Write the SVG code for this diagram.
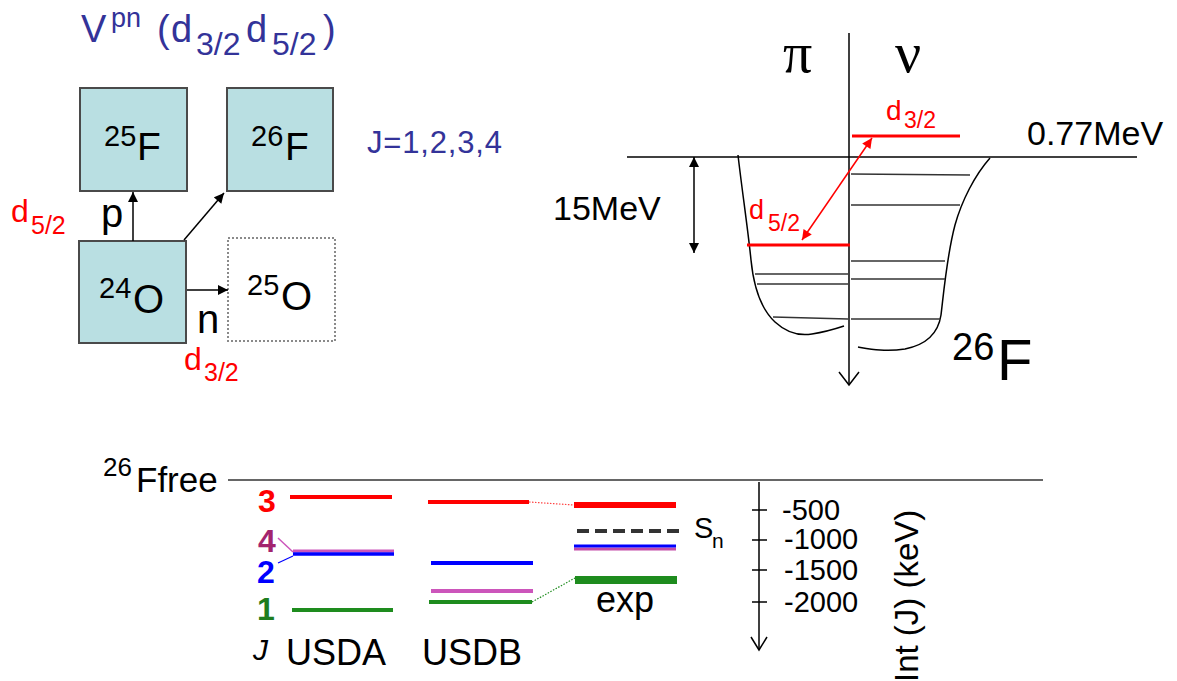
<svg xmlns="http://www.w3.org/2000/svg" width="1177" height="681" viewBox="0 0 1177 681">
<style>
text{font-family:"Liberation Sans",Arial,sans-serif;}
.red{fill:#ff0000;}
.blu{fill:#333399;}
.box{fill:#b9dfe2;stroke:#4a4a4a;stroke-width:2;}
.dbox{fill:#fff;stroke:#8a8a8a;stroke-width:2;stroke-dasharray:2 2;}
.ln{stroke:#000;stroke-width:1.5;fill:none;}
.lv{stroke:#333;stroke-width:1.6;fill:none;}
.rl{stroke:#ff0000;stroke-width:3;fill:none;}
.serif{font-family:"Liberation Serif","Times New Roman",serif;}
.b{font-weight:bold;}
</style>
<defs>
<marker id="ah" viewBox="0 0 10 10" refX="10" refY="5" markerWidth="12" markerHeight="10" markerUnits="userSpaceOnUse" orient="auto-start-reverse"><path d="M0,0 L10,5 L0,10 z" fill="#000"/></marker>
<marker id="ahr" viewBox="0 0 10 10" refX="10" refY="5" markerWidth="12" markerHeight="10" markerUnits="userSpaceOnUse" orient="auto-start-reverse"><path d="M0,0 L10,5 L0,10 z" fill="#ff0000"/></marker>
</defs>

<!-- Title -->
<g id="title">
<text x="81" y="42" font-size="38" class="blu">V</text>
<text x="111" y="27" font-size="27" class="blu">pn</text>
<text x="157" y="42" font-size="38" class="blu">(</text>
<text x="171" y="42" font-size="38" class="blu">d</text>
<text x="196" y="55" font-size="32" class="blu">3/2</text>
<text x="246" y="42" font-size="38" class="blu">d</text>
<text x="272" y="55" font-size="32" class="blu">5/2</text>
<text x="323" y="42" font-size="38" class="blu">)</text>
</g>
<text x="367" y="153" font-size="31" class="blu" textLength="135" lengthAdjust="spacing">J=1,2,3,4</text>

<!-- Nuclide boxes -->
<g id="n25F">
<rect x="80" y="88" width="107" height="103" class="box"/>
<text x="104" y="146" font-size="29">25</text>
<text x="137" y="160" font-size="39">F</text>
</g>
<g id="n26F">
<rect x="227" y="88" width="106" height="103" class="box"/>
<text x="251" y="146" font-size="29">26</text>
<text x="285" y="160" font-size="39">F</text>
</g>
<g id="n24O">
<rect x="79" y="241" width="107" height="102" class="box"/>
<text x="99" y="298" font-size="29">24</text>
<text x="133" y="313" font-size="40">O</text>
</g>
<g id="n25O">
<rect x="228" y="238" width="107" height="103" class="dbox"/>
<text x="247" y="295" font-size="29">25</text>
<text x="281" y="310" font-size="40">O</text>
</g>

<g id="connectors-left">
<line x1="133" y1="241" x2="133" y2="192" class="ln" marker-end="url(#ah)"/>
<line x1="184" y1="240" x2="224" y2="193" class="ln" marker-end="url(#ah)"/>
<line x1="187" y1="290" x2="228" y2="290" class="ln" marker-end="url(#ah)"/>
</g>
<text x="101" y="227" font-size="40">p</text>
<text x="197" y="333" font-size="40">n</text>
<g id="orbit-labels">
<text x="11" y="222" font-size="32" class="red">d</text>
<text x="31" y="234" font-size="25" class="red">5/2</text>
<text x="184" y="370" font-size="32" class="red">d</text>
<text x="204" y="381" font-size="25" class="red">3/2</text>
</g>

<!-- Potential well diagram -->
<g id="well">
<line x1="627" y1="157" x2="1137" y2="157" class="ln"/>
<path d="M849,33 L849,384" class="ln"/>
<path d="M839,372 L849,385 L859,372" class="ln"/>
<path d="M738,155 C742,190 748,230 751,260 C754,290 762,310 775,322 C788,334 800,336 812,334 C825,332 835,329 844,326" class="ln"/>
<path d="M990,158 C975,175 962,200 955,225 C947,255 944,290 941,315 C938,335 925,345 905,349 C885,352 870,349 858,347" class="ln"/>
<line x1="851" y1="174" x2="970" y2="175" class="lv"/>
<line x1="851" y1="205" x2="960" y2="205" class="lv"/>
<line x1="851" y1="261" x2="945" y2="261" class="lv"/>
<line x1="851" y1="279" x2="945" y2="279" class="lv"/>
<line x1="851" y1="319" x2="940" y2="319" class="lv"/>
<line x1="755" y1="274" x2="848" y2="274" class="lv"/>
<line x1="757" y1="284" x2="848" y2="284" class="lv"/>
<line x1="773" y1="317" x2="848" y2="319" class="lv"/>
<line x1="852" y1="136" x2="960" y2="136" class="rl"/>
<line x1="747" y1="245" x2="850" y2="245" class="rl"/>
<line x1="802" y1="240" x2="872" y2="138" stroke="#ff0000" stroke-width="1.5" marker-start="url(#ahr)" marker-end="url(#ahr)"/>
<line x1="694" y1="157" x2="694" y2="253" class="ln" marker-start="url(#ah)" marker-end="url(#ah)"/>
</g>
<text x="783" y="72" font-size="58" class="serif">π</text>
<text x="895" y="72" font-size="58" class="serif">ν</text>
<text x="886" y="120" font-size="28" class="red">d</text>
<text x="904" y="128" font-size="23" class="red">3/2</text>
<text x="749" y="219" font-size="27" class="red">d</text>
<text x="768" y="231" font-size="23" class="red">5/2</text>
<text x="553" y="220" font-size="34">15MeV</text>
<text x="1027" y="145" font-size="34">0.77MeV</text>
<text x="952" y="360" font-size="38">26</text>
<text x="997" y="380" font-size="58">F</text>

<!-- Level scheme -->
<g id="levels">
<line x1="228" y1="480" x2="1043" y2="480" stroke="#666" stroke-width="2"/>
<text x="103" y="476" font-size="26">26</text>
<text x="136" y="492" font-size="35">Ffree</text>
<text x="267" y="512" font-size="32" class="b" fill="#ff0000" text-anchor="middle">3</text>
<text x="267" y="552" font-size="32" class="b" fill="#a3246e" text-anchor="middle">4</text>
<text x="266" y="583" font-size="32" class="b" fill="#0000ff" text-anchor="middle">2</text>
<text x="266" y="620" font-size="32" class="b" fill="#1e7d1e" text-anchor="middle">1</text>
<line x1="278" y1="538" x2="293" y2="552" stroke="#cc55bb" stroke-width="1.5"/>
<line x1="278" y1="563" x2="293" y2="556" stroke="#0000ff" stroke-width="1.2"/>
<line x1="290" y1="497" x2="392" y2="497" stroke="#ff0000" stroke-width="4"/>
<line x1="293" y1="551" x2="394" y2="551" stroke="#cc55bb" stroke-width="3"/>
<line x1="293" y1="554" x2="394" y2="554" stroke="#0000ff" stroke-width="3.5"/>
<line x1="292" y1="610" x2="393" y2="610" stroke="#1e8c1e" stroke-width="4"/>
<line x1="428" y1="502" x2="529" y2="502" stroke="#ff0000" stroke-width="4"/>
<line x1="431" y1="563" x2="533" y2="563" stroke="#0000ff" stroke-width="4"/>
<line x1="431" y1="591" x2="533" y2="591" stroke="#cc55bb" stroke-width="4"/>
<line x1="429" y1="602" x2="532" y2="602" stroke="#1e8c1e" stroke-width="4"/>
<line x1="529" y1="502" x2="574" y2="505" stroke="#ff4444" stroke-width="1.2" stroke-dasharray="1.5 1.5"/>
<line x1="532" y1="602" x2="575" y2="578" stroke="#1e8c1e" stroke-width="1.2" stroke-dasharray="1.5 1.5"/>
<line x1="574" y1="505" x2="676" y2="505" stroke="#ff0000" stroke-width="6"/>
<line x1="577" y1="531" x2="679" y2="531" stroke="#333" stroke-width="4" stroke-dasharray="12 6"/>
<line x1="574" y1="549" x2="676" y2="549" stroke="#c44ba8" stroke-width="3"/>
<line x1="574" y1="546" x2="676" y2="546" stroke="#0000ff" stroke-width="3"/>
<line x1="575" y1="580" x2="677" y2="580" stroke="#1e8c1e" stroke-width="8"/>
<text x="253" y="660" font-size="30" font-style="italic">J</text>
<text x="286" y="665" font-size="36">USDA</text>
<text x="422" y="665" font-size="36">USDB</text>
<text x="596" y="612" font-size="36">exp</text>
<text x="694" y="538" font-size="29">S</text>
<text x="712" y="548" font-size="21">n</text>
</g>

<g id="axis">
<line x1="759" y1="482" x2="759" y2="649" class="ln"/>
<path d="M751,637 L759,650 L767,637" class="ln"/>
<line x1="752" y1="510" x2="767" y2="510" class="ln"/>
<line x1="752" y1="540" x2="767" y2="540" class="ln"/>
<line x1="752" y1="570" x2="767" y2="570" class="ln"/>
<line x1="752" y1="602" x2="767" y2="602" class="ln"/>
<text x="782" y="520" font-size="29">-500</text>
<text x="784" y="549" font-size="29">-1000</text>
<text x="784" y="580" font-size="29">-1500</text>
<text x="784" y="612" font-size="29">-2000</text>
<text transform="translate(918,682) rotate(-90)" x="0" y="0" font-size="33">Int (J) (keV)</text>
</g>
</svg>
